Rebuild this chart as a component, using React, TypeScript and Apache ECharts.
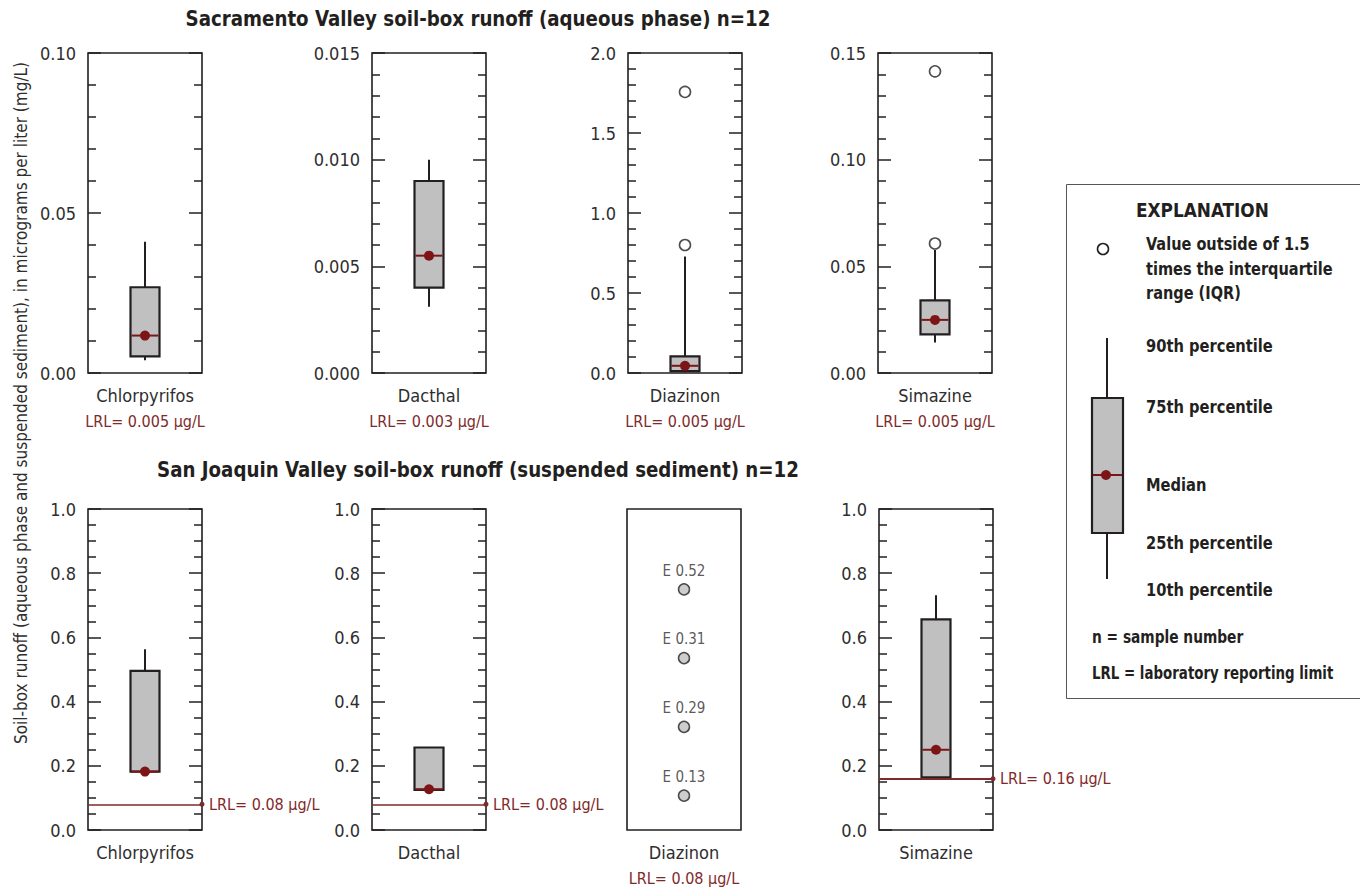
import React, { useEffect, useRef } from "react";
import * as echarts from "echarts";

// ---- data ----
const compounds = ["Chlorpyrifos", "Dacthal", "Diazinon", "Simazine"];

// Sacramento Valley, aqueous phase (µg/L)
const sacP10 = [0.004, 0.0031, 0.004, 0.0143];
const sacP25 = [0.0052, 0.004, 0.012, 0.0181];
const sacMedian = [0.0117, 0.0055, 0.045, 0.0249];
const sacP75 = [0.0268, 0.009, 0.104, 0.034];
const sacP90 = [0.041, 0.01, 0.728, 0.0577];
const sacOutliers = [[], [], [1.757, 0.8], [0.1414, 0.0607]];
const sacLRL = ["0.005", "0.003", "0.005", "0.005"];
const sacAxisMax = [0.1, 0.015, 2.0, 0.15];
const sacAxisInterval = [0.05, 0.005, 0.5, 0.05];
const sacAxisDecimals = [2, 3, 1, 2];

// San Joaquin Valley, suspended sediment (µg/L)
const sjP10 = [0.182, 0.125, null, 0.164];
const sjP25 = [0.182, 0.125, null, 0.164];
const sjMedian = [0.182, 0.127, null, 0.25];
const sjP75 = [0.496, 0.257, null, 0.656];
const sjP90 = [0.563, 0.257, null, 0.731];
const sjLRL = [0.08, 0.08, 0.08, 0.16];
const sjDiazinonEstimates = [0.13, 0.29, 0.31, 0.52];

const topTitle = "Sacramento Valley soil-box runoff (aqueous phase) n=12";
const bottomTitle = "San Joaquin Valley soil-box runoff (suspended sediment) n=12";
const yTitle =
  "Soil-box runoff (aqueous phase and suspended sediment), in micrograms per liter (mg/L)";

// ---- styling ----
const FONT = "'Liberation Sans Narrow', 'Arial Narrow', 'DejaVu Sans Condensed', sans-serif";
const INK = "#231f20";
const LABEL = "#2e2e2e";
const RED = "#7d1518";
const LRL_RED = "#7f2a2a";
const BOX_FILL = "#c0c0c0";

const panelLeftTop = [88, 372, 628, 878];
const panelLeftBottom = [88, 372, 627, 879];
const PANEL_W = 114;

function renderBox(params: any, api: any) {
  const xi = api.value(0);
  const y = (i: number) => api.coord([xi, api.value(i)])[1];
  const x = api.coord([xi, 0])[0];
  const p10 = y(1), p25 = y(2), med = y(3), p75 = y(4), p90 = y(5);
  const hw = 14.5;
  const children: any[] = [];
  if (Math.abs(p90 - p75) > 0.5) {
    children.push({
      type: "line",
      shape: { x1: x, y1: p75, x2: x, y2: p90 },
      style: { stroke: INK, lineWidth: 2 },
    });
  }
  if (Math.abs(p10 - p25) > 0.5) {
    children.push({
      type: "line",
      shape: { x1: x, y1: p25, x2: x, y2: p10 },
      style: { stroke: INK, lineWidth: 2 },
    });
  }
  children.push({
    type: "rect",
    shape: { x: x - hw, y: p75, width: hw * 2, height: p25 - p75 },
    style: { fill: BOX_FILL, stroke: INK, lineWidth: 2.2 },
  });
  children.push({
    type: "line",
    shape: { x1: x - hw + 1, y1: med, x2: x + hw - 1, y2: med },
    style: { stroke: RED, lineWidth: 2 },
  });
  children.push({
    type: "circle",
    shape: { cx: x, cy: med, r: 5 },
    style: { fill: RED },
  });
  return { type: "group", children };
}

function yAxes(gridIndex: number, max: number, interval: number, minorSplit: number, decimals: number, show = true) {
  const common = {
    type: "value",
    gridIndex,
    min: 0,
    max,
    interval,
    show,
    axisLine: { show: false },
    splitLine: { show: false },
    minorSplitLine: { show: false },
    axisTick: { show: true, inside: true, length: 13, lineStyle: { color: INK, width: 1.5 } },
    minorTick: { show: true, splitNumber: minorSplit, length: 8, lineStyle: { color: INK, width: 1.5 } },
  };
  return [
    {
      ...common,
      position: "left",
      axisLabel: {
        show: true,
        showMinLabel: true,
        showMaxLabel: true,
        margin: 12,
        fontSize: 18,
        fontFamily: FONT,
        color: LABEL,
        formatter: (v: number) => v.toFixed(decimals),
      },
    },
    { ...common, position: "right", axisLabel: { show: false } },
  ];
}

function xAxis(gridIndex: number, name: string, lrl: string | null, show = true) {
  return {
    type: "category",
    gridIndex,
    data: [name],
    show,
    axisLine: { show: false },
    axisTick: { show: false },
    axisLabel: {
      interval: 0,
      margin: 10,
      formatter: (v: string) => (lrl ? `{n|${v}}\n{l|LRL= ${lrl} µg/L}` : `{n|${v}}`),
      rich: {
        n: { fontSize: 18, fontFamily: FONT, color: LABEL, lineHeight: 24 },
        l: { fontSize: 16, fontFamily: FONT, color: LRL_RED, lineHeight: 28 },
      },
    },
  };
}

function buildOption() {
  const grids: any[] = [];
  const xAxes: any[] = [];
  const yAxesAll: any[] = [];
  const series: any[] = [];

  // top row
  compounds.forEach((c, i) => {
    grids.push({
      left: panelLeftTop[i], top: 53, width: PANEL_W, height: 320,
      show: true, borderColor: INK, borderWidth: 1.6, backgroundColor: "transparent",
    });
    xAxes.push(xAxis(i, c, sacLRL[i]));
    yAxesAll.push(...yAxes(i, sacAxisMax[i], sacAxisInterval[i], 5, sacAxisDecimals[i]));
    series.push({
      type: "custom",
      xAxisIndex: i,
      yAxisIndex: i * 2,
      renderItem: renderBox,
      encode: { x: 0, y: [1, 2, 3, 4, 5] },
      data: [[0, sacP10[i], sacP25[i], sacMedian[i], sacP75[i], sacP90[i]]],
      z: 3,
    });
    if (sacOutliers[i].length) {
      series.push({
        type: "scatter",
        xAxisIndex: i,
        yAxisIndex: i * 2,
        symbol: "circle",
        symbolSize: 11,
        itemStyle: { color: "#ffffff", borderColor: INK, borderWidth: 1.6 },
        data: sacOutliers[i].map((v) => [0, v]),
        z: 4,
      });
    }
  });

  // bottom row
  compounds.forEach((c, i) => {
    const g = 4 + i;
    const isDiazinon = sjMedian[i] === null;
    grids.push({
      left: panelLeftBottom[i], top: 509, width: PANEL_W, height: 321,
      show: true, borderColor: INK, borderWidth: 1.6, backgroundColor: "transparent",
    });
    xAxes.push(xAxis(g, c, isDiazinon ? String(sjLRL[i]) : null));
    yAxesAll.push(...yAxes(g, 1, 0.2, 4, 1, !isDiazinon));
    if (!isDiazinon) {
      series.push({
        type: "custom",
        xAxisIndex: g,
        yAxisIndex: g * 2,
        renderItem: renderBox,
        encode: { x: 0, y: [1, 2, 3, 4, 5] },
        data: [[0, sjP10[i], sjP25[i], sjMedian[i], sjP75[i], sjP90[i]]],
        z: 3,
      });
      series.push({
        type: "line",
        xAxisIndex: g,
        yAxisIndex: g * 2,
        data: [],
        z: 5,
        markLine: {
          silent: true,
          symbol: ["none", "circle"],
          symbolSize: 5,
          lineStyle: { color: LRL_RED, width: i === 3 ? 2.2 : 1.5, type: "solid" },
          label: {
            show: true,
            position: "end",
            distance: 7,
            fontSize: 16,
            fontFamily: FONT,
            color: LRL_RED,
            formatter: `LRL= ${sjLRL[i]} µg/L`,
          },
          data: [{ yAxis: sjLRL[i] }],
        },
      });
    }
  });

  // detections of diazinon, one row per estimated value
  grids.push({ left: panelLeftBottom[2], top: 555, width: PANEL_W, height: 275 });
  xAxes.push({ type: "category", gridIndex: 8, data: ["Diazinon"], show: false });
  yAxesAll.push({
    type: "category",
    gridIndex: 8,
    show: false,
    data: sjDiazinonEstimates.map((v) => v.toFixed(2)),
  });
  series.push({
    type: "scatter",
    xAxisIndex: 8,
    yAxisIndex: yAxesAll.length - 1,
    symbol: "circle",
    symbolSize: 11,
    itemStyle: { color: BOX_FILL, borderColor: INK, borderWidth: 1.5 },
    label: {
      show: true,
      position: "top",
      distance: 5,
      fontSize: 15,
      fontFamily: FONT,
      color: LABEL,
      formatter: (p: any) => `E ${p.value[1]}`,
    },
    data: sjDiazinonEstimates.map((v) => [0, v.toFixed(2)]),
  });

  // bold explanation text, squeezed horizontally to a condensed width
  const legendText = (text: string, x: number, y: number, squeeze = 0.95, size = 17, lineHeight = 24) => ({
    type: "text",
    x,
    y,
    scaleX: squeeze,
    style: {
      text,
      fontSize: size,
      fontWeight: "bold",
      fontFamily: FONT,
      fill: INK,
      align: "left",
      verticalAlign: "middle",
      lineHeight,
    },
  });

  const graphic: any[] = [
    {
      type: "text",
      x: 478,
      y: 19,
      scaleX: 0.965,
      style: { text: topTitle, fontSize: 21, fontWeight: "bold", fontFamily: FONT, fill: INK, align: "center", verticalAlign: "middle" },
    },
    {
      type: "text",
      x: 478,
      y: 470,
      scaleX: 0.965,
      style: { text: bottomTitle, fontSize: 21, fontWeight: "bold", fontFamily: FONT, fill: INK, align: "center", verticalAlign: "middle" },
    },
    {
      type: "text",
      x: 21,
      y: 403,
      rotation: Math.PI / 2,
      style: { text: yTitle, fontSize: 17, fontFamily: FONT, fill: LABEL, align: "center", verticalAlign: "middle" },
    },
    // explanation box
    {
      type: "rect",
      shape: { x: 1066.5, y: 184.5, width: 300, height: 514 },
      style: { fill: "#ffffff", stroke: "#555555", lineWidth: 1 },
    },
    legendText("EXPLANATION", 1136, 210, 0.94, 20),
    { type: "circle", shape: { cx: 1103, cy: 249, r: 5.5 }, style: { fill: "#ffffff", stroke: INK, lineWidth: 1.6 } },
    legendText("Value outside of 1.5\ntimes the interquartile\nrange (IQR)", 1146, 269, 0.95, 17, 24.5),
    { type: "line", shape: { x1: 1107, y1: 338, x2: 1107, y2: 398 }, style: { stroke: INK, lineWidth: 2 } },
    { type: "line", shape: { x1: 1107, y1: 533, x2: 1107, y2: 579 }, style: { stroke: INK, lineWidth: 2 } },
    { type: "rect", shape: { x: 1092, y: 398, width: 31, height: 135 }, style: { fill: BOX_FILL, stroke: INK, lineWidth: 2.2 } },
    { type: "line", shape: { x1: 1093, y1: 475, x2: 1122, y2: 475 }, style: { stroke: RED, lineWidth: 2 } },
    { type: "circle", shape: { cx: 1106, cy: 475, r: 5 }, style: { fill: RED } },
    legendText("90th percentile", 1146, 346, 0.96),
    legendText("75th percentile", 1146, 407, 0.96),
    legendText("Median", 1146, 485, 0.96),
    legendText("25th percentile", 1146, 543, 0.96),
    legendText("10th percentile", 1146, 590, 0.96),
    legendText("n = sample number", 1092, 637, 0.9),
    legendText("LRL = laboratory reporting limit", 1092, 673, 0.875),
  ];

  return {
    animation: false,
    backgroundColor: "#ffffff",
    grid: grids,
    xAxis: xAxes,
    yAxis: yAxesAll,
    series,
    graphic,
  };
}

export default function App() {
  const ref = useRef<HTMLDivElement>(null);
  useEffect(() => {
    if (!ref.current) return;
    const chart = echarts.init(ref.current, null, { renderer: "svg" });
    chart.setOption(buildOption() as any);
    return () => chart.dispose();
  }, []);
  return (
    <div
      ref={ref}
      style={{ position: "fixed", left: 0, top: 0, width: 1360, height: 890, background: "#fff" }}
    />
  );
}
